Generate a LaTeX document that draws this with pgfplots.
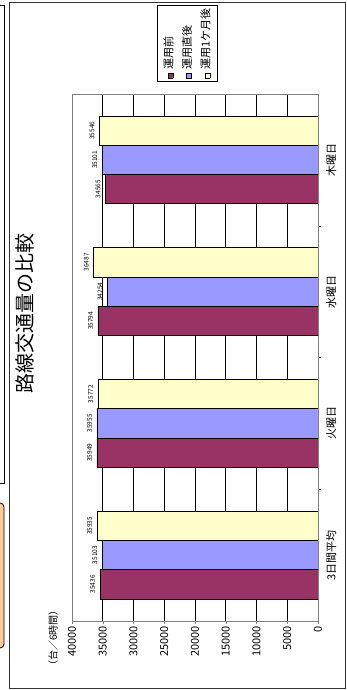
\documentclass[border=0pt]{standalone}
\usepackage{fontspec}
\setmainfont{Noto Sans CJK JP}
\usepackage{pgfplots}
\pgfplotsset{compat=1.18}
\definecolor{cA}{RGB}{153,51,102}
\definecolor{cB}{RGB}{153,153,255}
\definecolor{cC}{RGB}{255,255,204}
\definecolor{peach}{RGB}{255,204,153}
\newcommand\legsq[1]{{\setlength{\fboxsep}{0pt}\setlength{\fboxrule}{0.7pt}\fcolorbox{black}{#1}{\rule{0pt}{4.5pt}\rule{4.5pt}{0pt}}}}
\begin{document}
\begin{tikzpicture}[x=1pt,y=1pt]
\useasboundingbox (0,0) rectangle (347,690);
\draw[black, line width=0.8pt] (-5,207) -- (4,207) -- (4,685) -- (-5,685);
\draw[black, fill=peach, rounded corners=4pt, line width=0.8pt] (-10,42) rectangle (4,187);
\draw[fill=white, draw=black!80, line width=0.9pt] (9,2) rectangle (345,688);
\begin{axis}[
  at={(72pt,69pt)}, anchor=south west, scale only axis,
  width=246pt, height=527pt,
  xbar, x dir=reverse,
  xmin=0, xmax=40000, ymin=-0.5, ymax=3.5,
  bar width=0.222,
  xtick={0,5000,...,40000},
  scaled x ticks=false,
  /pgf/number format/assume math mode=true,
  /pgf/number format/1000 sep={},
  xtick pos=left,
  tick align=outside,
  major tick length=3pt,
  minor tick length=3pt,
  xticklabel style={rotate=90, anchor=east, font=\fontsize{11}{11}\selectfont, inner sep=2pt},
  ytick={0,1,2,3},
  yticklabels={3日間平均, 火曜日, 水曜日, 木曜日},
  ytick pos=right,
  major y tick style={draw=none},
  minor ytick={0.5,1.5,2.5},
  minor y tick style={black},
  yticklabel style={rotate=90, anchor=north, font=\fontsize{11}{11}\selectfont, inner sep=5pt},
  xmajorgrids,
  major grid style={black, line width=0.6pt},
  axis line style={black!50, line width=0.8pt},
  point meta=x,
  nodes near coords,
  nodes near coords style={rotate=90, anchor=south, font=\fontsize{6.5}{6.5}\selectfont, inner sep=1pt, outer sep=4pt},
]
\addplot[fill=cA, draw=black, line width=0.6pt, bar shift=-0.222] coordinates {(35436,0) (35949,1) (35794,2) (34565,3)};
\addplot[fill=cB, draw=black, line width=0.6pt, bar shift=0] coordinates {(35103,0) (35955,1) (34254,2) (35101,3)};
\addplot[fill=cC, draw=black, line width=0.6pt, bar shift=0.222] coordinates {(35935,0) (35772,1) (36487,2) (35546,3)};
\draw[black, line width=0.9pt] (axis description cs:0,0) -- (axis description cs:1,0) -- (axis description cs:1,1);
\end{axis}
\node[rotate=90, font=\fontsize{20}{20}\selectfont] at (25,376) {路線交通量の比較};
\node[rotate=90, font=\fontsize{10}{10}\selectfont] at (53,52) {（台／6時間）};
\node[rotate=90, draw=black, line width=0.8pt, fill=white, inner xsep=3pt, inner ysep=2pt, font=\fontsize{11}{18.5}\selectfont] at (187.5,646.5)
  {\begin{tabular}{@{}l@{}}\legsq{cA}\hspace{3pt}運用前\\ \legsq{cB}\hspace{3pt}運用直後\\ \legsq{cC}\hspace{3pt}運用1ケ月後\end{tabular}};
\end{tikzpicture}
\end{document}
